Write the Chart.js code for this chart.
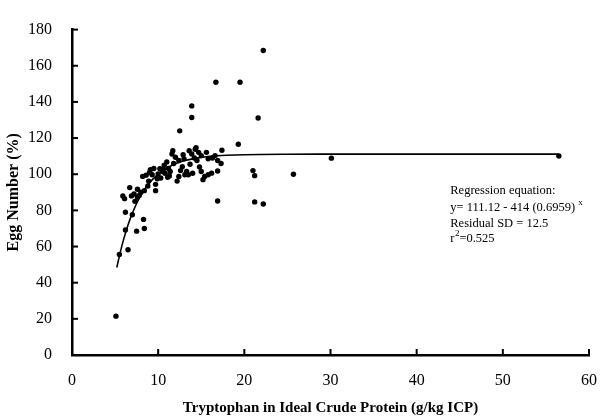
<!DOCTYPE html>
<html>
<head>
<meta charset="utf-8">
<script src="https://cdn.jsdelivr.net/npm/chart.js@4/dist/chart.umd.min.js"></script>
<style>
  html, body { margin: 0; padding: 0; background: #fff; }
  #wrap { width: 613px; height: 420px; }
</style>
</head>
<body>
<div id="wrap"><canvas id="eggChart" width="613" height="420"></canvas></div>
<script>
'use strict';

// ------------------------------------------------------------
// データ
// ------------------------------------------------------------
const trpX = [
  5.1, 5.5, 6.5, 6.2, 7.5, 8.4, 8.3, 6.2, 7.0, 6.1,
  5.9, 6.7, 7.2, 7.6, 7.8, 8.0, 8.4, 7.6, 8.8, 9.7,
  9.7, 8.9, 8.2, 8.6, 9.3, 9.5, 9.1, 10.3, 10.5, 10.0,
  10.2, 10.7, 11.0, 11.2, 11.6, 11.7, 11.8, 11.4, 12.4, 12.2,
  12.0, 12.4, 12.8, 13.0, 13.3, 13.5, 13.1, 13.9, 14.3, 14.7,
  15.0, 14.5, 15.6, 15.8, 16.6, 16.9, 17.3, 15.0, 15.4, 15.8,
  16.2, 15.2, 16.9, 17.4, 14.4, 16.9, 12.5, 13.9, 13.9, 16.7,
  19.5, 22.2, 21.6, 19.3, 21.0, 21.2, 25.7, 21.2, 22.2, 30.1,
  56.5, 10.8, 11.3, 12.6, 13.7, 14.0, 14.8, 12.9, 11.1, 9.9,
  10.6, 14.2, 16.3, 13.6, 9.0, 7.3, 6.9
];
const eggY = [
  21.5, 55.6, 58.2, 69.2, 68.5, 70.0, 75.0, 79.0, 77.6, 86.5,
  88.0, 92.6, 89.1, 87.2, 88.2, 90.0, 90.9, 91.7, 93.5, 90.9,
  94.4, 96.2, 98.8, 99.5, 99.7, 103.2, 102.5, 97.9, 101.5, 100.2,
  103.0, 105.0, 106.8, 103.2, 111.2, 113.0, 105.9, 101.5, 98.8, 96.2,
  109.4, 107.6, 104.1, 108.5, 101.5, 99.7, 99.7, 111.2, 113.8, 112.1,
  110.3, 107.6, 112.1, 108.5, 110.3, 107.6, 105.9, 101.5, 98.8, 99.7,
  100.6, 97.0, 101.8, 113.3, 114.7, 85.2, 124.0, 131.4, 137.8, 150.9,
  150.9, 168.4, 131.1, 116.6, 102.0, 99.2, 100.0, 84.7, 83.5, 108.9,
  110.1, 100.5, 99.0, 102.0, 105.5, 100.5, 104.0, 110.8, 98.3, 97.5,
  102.8, 109.0, 109.0, 113.0, 101.0, 85.0, 88.0
];

// 回帰曲線（図の線から読み取り）
const curveX = [5.2, 5.6, 6, 6.5, 7, 7.5, 8, 8.5, 9, 10, 11, 12, 13, 14, 15, 16, 18, 20, 25, 30, 40, 56.5];
const curveY = [48.4, 56.8, 64.1, 71.9, 78.4, 83.8, 88.4, 92.1, 95.3, 100.1, 103.4, 105.8, 107.4, 108.5, 109.3, 109.9, 110.5, 110.8, 111.05, 111.1, 111.12, 111.12];

const xTicks = [0, 10, 20, 30, 40, 50, 60];
const yTicks = [0, 20, 40, 60, 80, 100, 120, 140, 160, 180];

const xTitle = 'Tryptophan in Ideal Crude Protein (g/kg ICP)';
const yTitle = 'Egg Number (%)';
const noteHead = 'Regression equation:';
const noteEq = 'y= 111.12 - 414 (0.6959)';
const noteSD = 'Residual SD = 12.5';
const noteR2 = '=0.525';

// ------------------------------------------------------------
// 描画
// ------------------------------------------------------------
const SERIF = '"Liberation Serif", "DejaVu Serif", serif';

// 内向きの目盛りと回帰式の注記
const inwardTicks = {
  id: 'inwardTicks',
  afterDraw(chart) {
    const { ctx, chartArea, scales } = chart;
    ctx.save();
    ctx.strokeStyle = '#000';
    ctx.lineWidth = 2;
    scales.y.ticks.forEach((t, i) => {
      const py = scales.y.getPixelForTick(i);
      ctx.beginPath();
      ctx.moveTo(chartArea.left, py);
      ctx.lineTo(chartArea.left + 6, py);
      ctx.stroke();
    });
    scales.x.ticks.forEach((t, i) => {
      if (i === 0) return;
      const px = scales.x.getPixelForTick(i);
      ctx.beginPath();
      ctx.moveTo(px, chartArea.bottom);
      ctx.lineTo(px, chartArea.bottom - 6);
      ctx.stroke();
    });

    // 注記
    ctx.fillStyle = '#000';
    ctx.textBaseline = 'alphabetic';
    ctx.font = '12.5px ' + SERIF;
    const nx = scales.x.getPixelForValue(43.9);
    ctx.fillText(noteHead, nx, 194);
    ctx.fillText(noteEq, nx, 211);
    const w = ctx.measureText(noteEq).width;
    ctx.fillText(noteSD, nx, 227);
    ctx.fillText('r', nx, 242);
    const rw = ctx.measureText('r').width;
    ctx.fillText(noteR2, nx + rw + 5, 242);
    ctx.font = '9px ' + SERIF;
    ctx.fillText('x', nx + w + 3, 205);
    ctx.fillText('2', nx + rw + 0.5, 236);
    ctx.restore();
  }
};

new Chart(document.getElementById('eggChart'), {
  type: 'scatter',
  data: {
    datasets: [
      {
        label: 'fit',
        data: curveX.map((x, i) => ({ x, y: curveY[i] })),
        showLine: true,
        borderColor: '#000',
        borderWidth: 1.6,
        pointRadius: 0,
        cubicInterpolationMode: 'monotone',
        fill: false,
      },
      {
        label: 'obs',
        data: trpX.map((x, i) => ({ x, y: eggY[i] })),
        backgroundColor: '#000',
        borderColor: '#000',
        pointRadius: 2.7,
        borderWidth: 0,
      },
    ],
  },
  options: {
    responsive: false,
    animation: false,
    events: [],
    layout: { padding: { left: 0, right: 16, top: 15, bottom: 0 } },
    plugins: {
      legend: { display: false },
      tooltip: { enabled: false },
    },
    scales: {
      x: {
        type: 'linear',
        min: 0,
        max: 60,
        afterBuildTicks(s) { s.ticks = xTicks.map(v => ({ value: v })); },
        afterFit(s) { s.height = 65; },
        grid: { drawOnChartArea: false, drawTicks: false },
        border: { color: '#000', width: 2.5 },
        ticks: {
          color: '#000',
          padding: 16,
          maxRotation: 0,
          font: { family: SERIF, size: 16 },
        },
        title: {
          display: true,
          text: xTitle,
          color: '#000',
          padding: { top: 0, bottom: 3 },
          font: { family: SERIF, size: 15, weight: 'bold' },
        },
      },
      y: {
        type: 'linear',
        min: 0,
        max: 180,
        afterBuildTicks(s) { s.ticks = yTicks.map(v => ({ value: v })); },
        afterFit(s) { s.width = 72; },
        grid: { drawOnChartArea: false, drawTicks: false },
        border: { color: '#000', width: 2.5 },
        ticks: {
          color: '#000',
          padding: 20,
          font: { family: SERIF, size: 16 },
        },
        title: {
          display: true,
          text: yTitle,
          color: '#000',
          padding: { top: 4, bottom: 0 },
          font: { family: SERIF, size: 16, weight: 'bold' },
        },
      },
    },
  },
  plugins: [inwardTicks],
});
</script>
</body>
</html>
